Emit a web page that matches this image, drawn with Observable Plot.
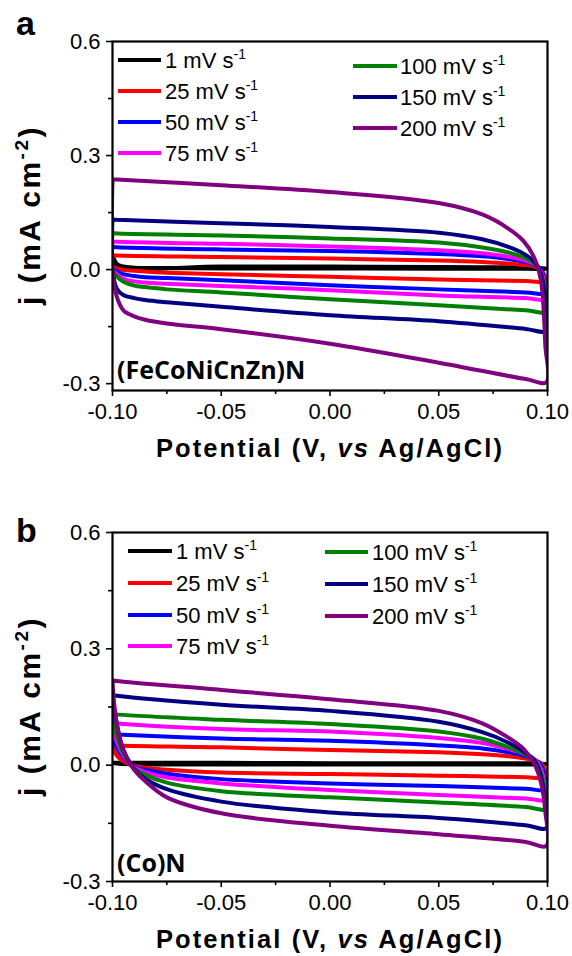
<!DOCTYPE html>
<html><head><meta charset="utf-8">
<script src="https://cdn.jsdelivr.net/npm/d3@7"></script>
<script src="https://cdn.jsdelivr.net/npm/@observablehq/plot@0.6"></script>
<style>
html,body{margin:0;padding:0;background:#fff;}
body{width:572px;height:956px;overflow:hidden;font-family:"Liberation Sans",Arial,sans-serif;}
.panel{position:relative;width:572px;height:478px;}
.panel svg{position:absolute;left:0;top:0;}
</style>
</head><body>
<div id="pa" class="panel"></div>
<div id="pb" class="panel"></div>
<script>
// ---------- data ----------
const rates = ["1", "25", "50", "75", "100", "150", "200"];
const colors = ["#000000", "#ff0000", "#0000ff", "#ff00ff", "#008000", "#000080", "#800080"];
const xTicks = [-0.1, -0.05, 0, 0.05, 0.1];
const xMinor = [-0.075, -0.025, 0.025, 0.075];
const yTicks = [-0.3, 0, 0.3, 0.6];
const yMinor = [-0.15, 0.15, 0.45];
// forward (anodic) sweep potentials and reverse sweep potentials (V)
const upperX = [-0.1, -0.098, -0.05, 0, 0.05, 0.07, 0.082, 0.089, 0.094, 0.097, 0.099];
const lowerX = [0.0995, 0.09, 0.05, 0, -0.05, -0.075, -0.085, -0.09, -0.095, -0.098, -0.1];

// panel a: (FeCoNiCnZn)N, current density (mA cm-2), one row per scan rate
const aUpper = [
  [0.04, 0.012, 0.008, 0.008, 0.007, 0.006, 0.006, 0.005, 0.005, 0.004, 0.003],
  [0.038, 0.037, 0.033, 0.029, 0.024, 0.02, 0.016, 0.012, 0.008, 0.0, -0.02],
  [0.06, 0.059, 0.053, 0.049, 0.041, 0.035, 0.028, 0.021, 0.012, 0.0, -0.04],
  [0.074, 0.073, 0.068, 0.061, 0.051, 0.043, 0.034, 0.025, 0.014, -0.005, -0.05],
  [0.096, 0.095, 0.09, 0.082, 0.071, 0.058, 0.045, 0.032, 0.016, -0.01, -0.07],
  [0.132, 0.131, 0.122, 0.112, 0.097, 0.08, 0.06, 0.042, 0.02, -0.01, -0.09],
  [0.238, 0.237, 0.222, 0.204, 0.175, 0.145, 0.108, 0.075, 0.03, -0.03, -0.2]
];
const aLower = [
  [0.002, 0.002, 0.002, 0.003, 0.003, 0.004, 0.004, 0.005, 0.008, 0.015, 0.04],
  [-0.031, -0.03, -0.026, -0.019, -0.012, -0.008, -0.005, -0.003, -0.001, 0.003, 0.01],
  [-0.062, -0.06, -0.052, -0.041, -0.028, -0.022, -0.02, -0.017, -0.012, -0.005, 0.003],
  [-0.078, -0.075, -0.068, -0.054, -0.043, -0.037, -0.034, -0.031, -0.024, -0.012, 0.0],
  [-0.111, -0.107, -0.094, -0.078, -0.06, -0.052, -0.046, -0.042, -0.032, -0.018, 0.0],
  [-0.161, -0.156, -0.136, -0.12, -0.098, -0.086, -0.08, -0.075, -0.067, -0.05, 0.0],
  [-0.296, -0.288, -0.245, -0.195, -0.157, -0.142, -0.132, -0.123, -0.107, -0.072, 0.0]
];
// panel b: (Co)N
const bUpper = [
  [0.006, 0.006, 0.006, 0.005, 0.005, 0.005, 0.005, 0.005, 0.005, 0.004, 0.003],
  [0.052, 0.051, 0.046, 0.039, 0.033, 0.028, 0.023, 0.018, 0.012, 0.005, -0.015],
  [0.08, 0.079, 0.069, 0.063, 0.051, 0.043, 0.033, 0.025, 0.015, 0.0, -0.04],
  [0.11, 0.108, 0.093, 0.087, 0.07, 0.057, 0.042, 0.03, 0.015, -0.01, -0.06],
  [0.133, 0.131, 0.117, 0.106, 0.087, 0.068, 0.046, 0.03, 0.013, -0.02, -0.08],
  [0.181, 0.179, 0.156, 0.14, 0.112, 0.085, 0.058, 0.035, 0.012, -0.03, -0.1],
  [0.219, 0.217, 0.194, 0.17, 0.14, 0.108, 0.071, 0.042, 0.003, -0.045, -0.12]
];
const bLower = [
  [0.002, 0.002, 0.002, 0.002, 0.002, 0.002, 0.002, 0.002, 0.003, 0.004, 0.006],
  [-0.032, -0.031, -0.027, -0.023, -0.019, -0.012, -0.006, -0.002, 0.01, 0.025, 0.05],
  [-0.063, -0.061, -0.054, -0.047, -0.036, -0.022, -0.012, -0.004, 0.02, 0.045, 0.078],
  [-0.089, -0.086, -0.077, -0.064, -0.047, -0.032, -0.018, -0.006, 0.025, 0.06, 0.105],
  [-0.113, -0.108, -0.096, -0.083, -0.067, -0.045, -0.025, -0.008, 0.03, 0.075, 0.13],
  [-0.162, -0.155, -0.136, -0.122, -0.094, -0.062, -0.035, -0.01, 0.04, 0.106, 0.178],
  [-0.208, -0.198, -0.178, -0.156, -0.124, -0.083, -0.041, -0.012, 0.037, 0.106, 0.215]
];
const sampleA = "(FeCoNiCnZn)N";
const sampleB = "(Co)N";

// ---------- build ----------
function loops(up, lo) {
  const rows = [];
  rates.forEach((r, i) => {
    upperX.forEach((x, k) => rows.push({rate: r, x, j: up[i][k]}));
    lowerX.forEach((x, k) => rows.push({rate: r, x, j: lo[i][k]}));
    rows.push({rate: r, x: upperX[0], j: up[i][0]});
  });
  return rows;
}

const FONT = "'Liberation Sans', Arial, sans-serif";

function makePlot(rows, yDomain, mt, mb) {
  return Plot.plot({
    width: 572, height: 478,
    marginTop: mt, marginBottom: mb, marginLeft: 112, marginRight: 25,
    x: {domain: [-0.1, 0.1]},
    y: {domain: yDomain},
    color: {domain: rates, range: colors},
    style: {fontFamily: FONT, fontSize: "22px", color: "#000", background: "transparent"},
    marks: [
      Plot.line(rows, {x: "x", y: "j", z: "rate", stroke: "rate", strokeWidth: 4, curve: "catmull-rom", clip: true}),
      Plot.frame({stroke: "#000", strokeWidth: 2.2}),
      Plot.axisX({ticks: xTicks, tickSize: 6, tickPadding: 7, tickFormat: d => d.toFixed(2), label: null, fontSize: 22, strokeWidth: 1.6}),
      Plot.axisX({ticks: xMinor, tickSize: 4, tickFormat: () => "", label: null, strokeWidth: 1.6}),
      Plot.axisY({ticks: yTicks, tickSize: 6, tickPadding: 6, tickFormat: d => d.toFixed(1), label: null, fontSize: 22, strokeWidth: 1.6}),
      Plot.axisY({ticks: yMinor, tickSize: 4, tickFormat: () => "", label: null, strokeWidth: 1.6})
    ]
  });
}

function decorate(container, cfg) {
  const svg = d3.select(container).append("svg")
    .attr("width", 572).attr("height", 478)
    .style("pointer-events", "none")
    .attr("font-family", FONT);
  // panel letter
  svg.append("text").attr("x", 16).attr("y", cfg.letterY).attr("font-size", 34).attr("font-weight", "bold").text(cfg.letter);
  // y label
  const yl = svg.append("text").attr("transform", `translate(40,${cfg.yCenter}) rotate(-90)`)
    .attr("text-anchor", "middle").attr("font-size", 30).attr("font-weight", "bold").attr("letter-spacing", 2.5);
  yl.append("tspan").text("j (mA cm");
  yl.append("tspan").attr("font-size", 19).attr("dy", -12).text("-2");
  yl.append("tspan").attr("dy", 12).text(")");
  // x label
  const xl = svg.append("text").attr("x", 330).attr("y", cfg.xTitleY).attr("text-anchor", "middle")
    .attr("font-size", 25.5).attr("font-weight", "bold").attr("letter-spacing", 2.1);
  xl.append("tspan").text("Potential (V, ");
  xl.append("tspan").attr("font-style", "italic").text("vs");
  xl.append("tspan").text(" Ag/AgCl)");
  // sample label
  svg.append("text").attr("x", 117).attr("y", cfg.sampleY).attr("font-family", "'Open Sans', sans-serif")
    .attr("font-size", 25).attr("font-weight", "bold").text(cfg.sample);
  // legend
  rates.forEach((r, i) => {
    const col = i < 4 ? cfg.col1 : cfg.col2;
    const y = i < 4 ? cfg.rows1[i] : cfg.rows2[i - 4];
    svg.append("line").attr("x1", col[0]).attr("x2", col[1]).attr("y1", y).attr("y2", y)
      .attr("stroke", colors[i]).attr("stroke-width", 4);
    const t = svg.append("text").attr("x", col[2]).attr("y", y + 7.5).attr("font-size", 22);
    t.append("tspan").text(r + " mV s");
    t.append("tspan").attr("font-size", 14).attr("dy", -9).text("-1");
  });
}

const pa = document.getElementById("pa");
pa.appendChild(makePlot(loops(aUpper, aLower), [-0.318, 0.6], 41, 88));
decorate(pa, {letter: "a", letterY: 35, yCenter: 215, xTitleY: 457, sample: sampleA, sampleY: 379,
  col1: [118, 161, 165], rows1: [60, 91, 122, 153], col2: [353, 397, 400], rows2: [66, 97, 128]});

const pb = document.getElementById("pb");
pb.appendChild(makePlot(loops(bUpper, bLower), [-0.3, 0.6], 54, 75));
decorate(pb, {letter: "b", letterY: 64, yCenter: 228, xTitleY: 470, sample: sampleB, sampleY: 394,
  col1: [128, 172, 176], rows1: [73, 105, 137, 168], col2: [325, 368, 372], rows2: [74, 106, 138]});
</script>
</body></html>
